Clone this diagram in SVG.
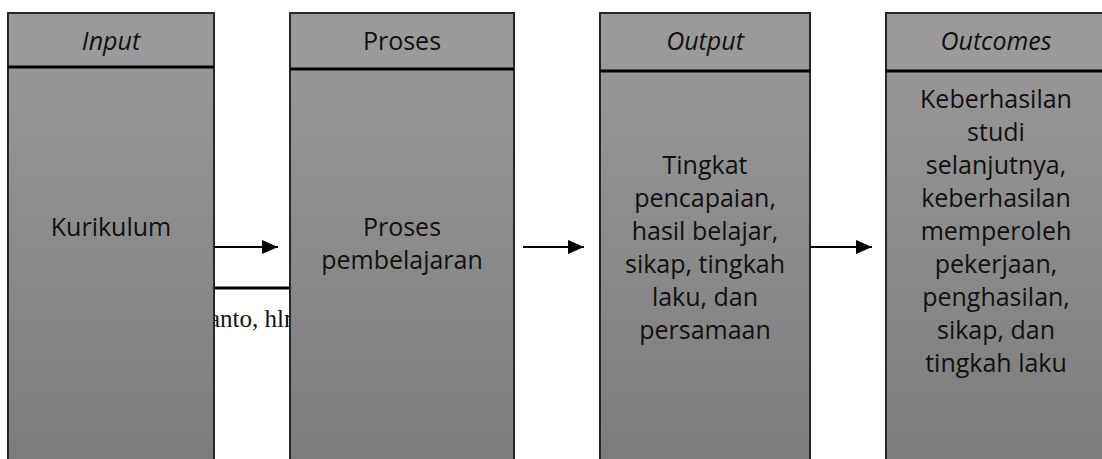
<svg xmlns="http://www.w3.org/2000/svg" width="1102" height="459" viewBox="0 0 1102 459">
  <style>
    .box { stroke: #262626; stroke-width: 2; }
    .head { fill: #9a9a9a; }
    .rule { stroke: #000; stroke-width: 3; }
    .t { font-family: "Open Sans", "Noto Sans", sans-serif; font-size: 25px; fill: #111; text-anchor: middle; }
    .h { font-style: italic; }
    .conn { stroke: #000; stroke-width: 2; fill: none; }
  </style>
  <defs>
    <linearGradient id="bodyFill" x1="0" y1="0" x2="0" y2="1">
      <stop offset="0" stop-color="#9a9a9a"/>
      <stop offset="1" stop-color="#7c7c7c"/>
    </linearGradient>
    <marker id="arrow" markerWidth="16" markerHeight="14" refX="16" refY="7" orient="auto" markerUnits="userSpaceOnUse">
      <path d="M0,0 L16,7 L0,14 Z" fill="#000"/>
    </marker>
  </defs>

  <rect width="1102" height="459" fill="#fff"/>

  <!-- source caption lying behind the columns -->
  <text x="209" y="327" font-family="'Liberation Serif', serif" font-size="25" fill="#111">anto, hlm</text>
  <line x1="214" y1="288" x2="290" y2="288" stroke="#000" stroke-width="3"/>

  <g id="input">
    <rect class="box" x="8" y="13" width="206" height="460" fill="url(#bodyFill)"/>
    <rect class="head" x="9" y="14" width="204" height="53"/>
    <line class="rule" x1="8" y1="67" x2="214" y2="67"/>
    <text class="t h" x="111" y="50">Input</text>
    <text class="t" x="111" y="236">Kurikulum</text>
  </g>

  <g id="proses">
    <rect class="box" x="290" y="13" width="224" height="460" fill="url(#bodyFill)"/>
    <rect class="head" x="291" y="14" width="222" height="55"/>
    <line class="rule" x1="290" y1="69" x2="514" y2="69"/>
    <text class="t" x="402" y="50">Proses</text>
    <text class="t" x="402" y="236">Proses</text>
    <text class="t" x="402" y="269">pembelajaran</text>
  </g>

  <g id="output">
    <rect class="box" x="600" y="13" width="210" height="460" fill="url(#bodyFill)"/>
    <rect class="head" x="601" y="14" width="208" height="57"/>
    <line class="rule" x1="600" y1="71" x2="810" y2="71"/>
    <text class="t h" x="705" y="50">Output</text>
    <text class="t" x="705" y="174">Tingkat</text>
    <text class="t" x="705" y="207">pencapaian,</text>
    <text class="t" x="705" y="240">hasil belajar,</text>
    <text class="t" x="705" y="273">sikap, tingkah</text>
    <text class="t" x="705" y="306">laku, dan</text>
    <text class="t" x="705" y="339">persamaan</text>
  </g>

  <g id="outcomes">
    <rect class="box" x="886" y="13" width="230" height="460" fill="url(#bodyFill)"/>
    <rect class="head" x="887" y="14" width="220" height="57"/>
    <line class="rule" x1="886" y1="71" x2="1102" y2="71"/>
    <text class="t h" x="996" y="50">Outcomes</text>
    <text class="t" x="996" y="108">Keberhasilan</text>
    <text class="t" x="996" y="141">studi</text>
    <text class="t" x="996" y="174">selanjutnya,</text>
    <text class="t" x="996" y="207">keberhasilan</text>
    <text class="t" x="996" y="240">memperoleh</text>
    <text class="t" x="996" y="273">pekerjaan,</text>
    <text class="t" x="996" y="306">penghasilan,</text>
    <text class="t" x="996" y="339">sikap, dan</text>
    <text class="t" x="996" y="372">tingkah laku</text>
  </g>

  <g id="connectors">
    <line class="conn" x1="214" y1="247" x2="278" y2="247" marker-end="url(#arrow)"/>
    <line class="conn" x1="523" y1="247" x2="584" y2="247" marker-end="url(#arrow)"/>
    <line class="conn" x1="810" y1="247" x2="872" y2="247" marker-end="url(#arrow)"/>
  </g>
</svg>
